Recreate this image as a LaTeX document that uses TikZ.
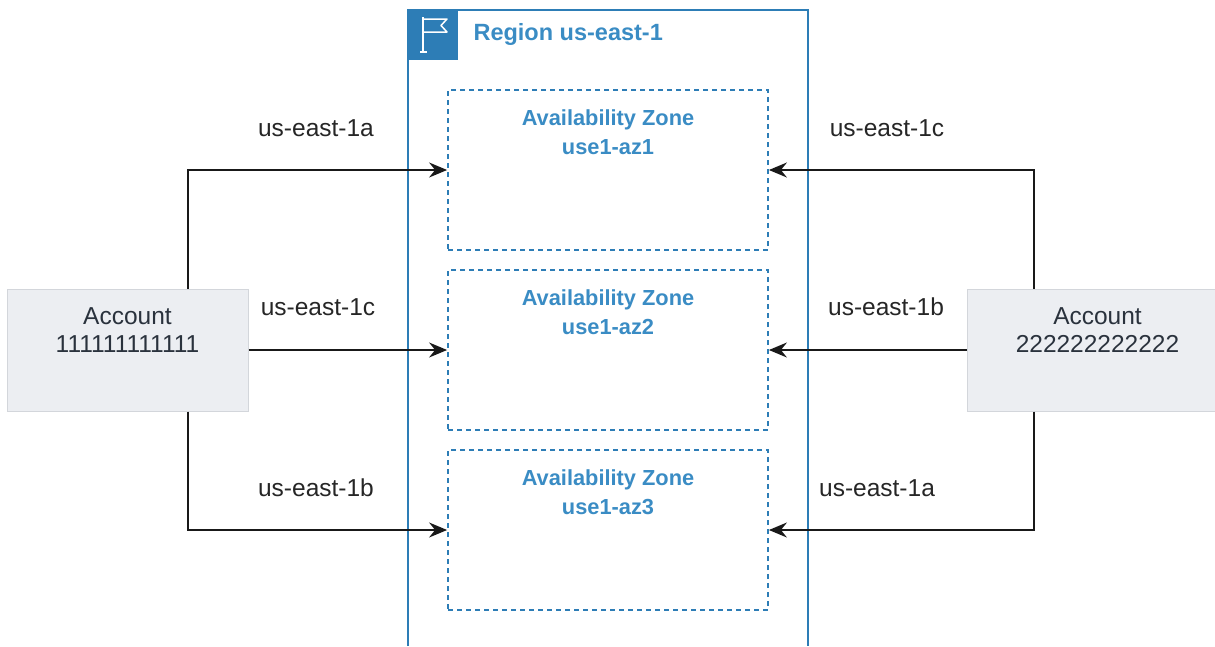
\documentclass[tikz,border=0pt]{standalone}
\usepackage{fontspec}
\setmainfont{Liberation Sans}
\usepackage{tikz}
\usetikzlibrary{arrows.meta,positioning}
\definecolor{awsblue}{HTML}{2D7DB6}
\definecolor{awstext}{HTML}{3A8CC4}
\definecolor{accfill}{HTML}{ECEEF2}
\definecolor{accline}{HTML}{D3D6DB}
\definecolor{acctxt}{HTML}{2A323D}

\begin{document}
\begin{tikzpicture}[x=1pt, y=-1pt, font=\fontsize{24.5}{28}\selectfont,
  region/.style={draw=awsblue, line width=2pt},
  zone/.style={draw=awsblue, line width=1.8pt, dash pattern=on 5pt off 4pt, minimum width=320pt, minimum height=160pt},
  zonetext/.style={text=awstext, font=\fontsize{21.8}{29.5}\selectfont\bfseries, align=center},
  account/.style={fill=accfill, draw=accline, line width=1pt, minimum width=241pt, minimum height=122pt},
  acctext/.style={text=acctxt, align=center},
  link/.style={-{Stealth[length=18pt,width=15pt,inset=6pt]}, line width=1.6pt, draw=black!90},
  azlabel/.style={text=black!85}]
\useasboundingbox (0,0) rectangle (1215,646);

% region
\draw[region] (408,646) -- (408,10) -- (808,10) -- (808,646);
\fill[awsblue] (408,10) rectangle (458,60);
\draw[white, line width=1.5pt, line join=round] (423,52) -- (423,17);
\draw[white, line width=1.5pt] (420,52) -- (427,52);
\draw[white, line width=1.5pt, line join=round] (423,19) -- (447,19) -- (441,25.5) -- (447,32) -- (423,32);
\node[anchor=west, text=awstext, font=\fontsize{23.5}{28}\selectfont\bfseries] (region) at (470,34) {Region us-east-1};

% zones
\foreach \i/\y in {1/170,2/350,3/530} {
  \node[zone] (az\i) at (608,\y) {};
  \node[zonetext] (az\i text) at ([yshift=-43pt]az\i.north) {Availability Zone\\use1-az\i};
}

% accounts
\node[account] (acc1) at (127.5,350) {};
\node[acctext] (acc1text) at ([yshift=-41.5pt]acc1.north) {Account\\111111111111};
\node[account, minimum width=261pt] (acc2) at (1097.5,350) {};
\node[acctext] (acc2text) at ([yshift=-41.5pt]acc2.north) {Account\\222222222222};

% links
\draw[link] ([xshift=60.5pt]acc1.north) |- (az1.west);
\draw[link] (acc1.east) -- (az2.west);
\draw[link] ([xshift=60.5pt]acc1.south) |- (az3.west);
\draw[link] ([xshift=-63.5pt]acc2.north) |- (az1.east);
\draw[link] (acc2.west) -- (az2.east);
\draw[link] ([xshift=-63.5pt]acc2.south) |- (az3.east);

\node[azlabel] (l1) at (316,128) {us-east-1a};
\node[azlabel] (l2) at (318,307) {us-east-1c};
\node[azlabel] (l3) at (316,488) {us-east-1b};
\node[azlabel] (r1) at (887,128) {us-east-1c};
\node[azlabel] (r2) at (886,307) {us-east-1b};
\node[azlabel] (r3) at (877,488) {us-east-1a};
\end{tikzpicture}
\end{document}
